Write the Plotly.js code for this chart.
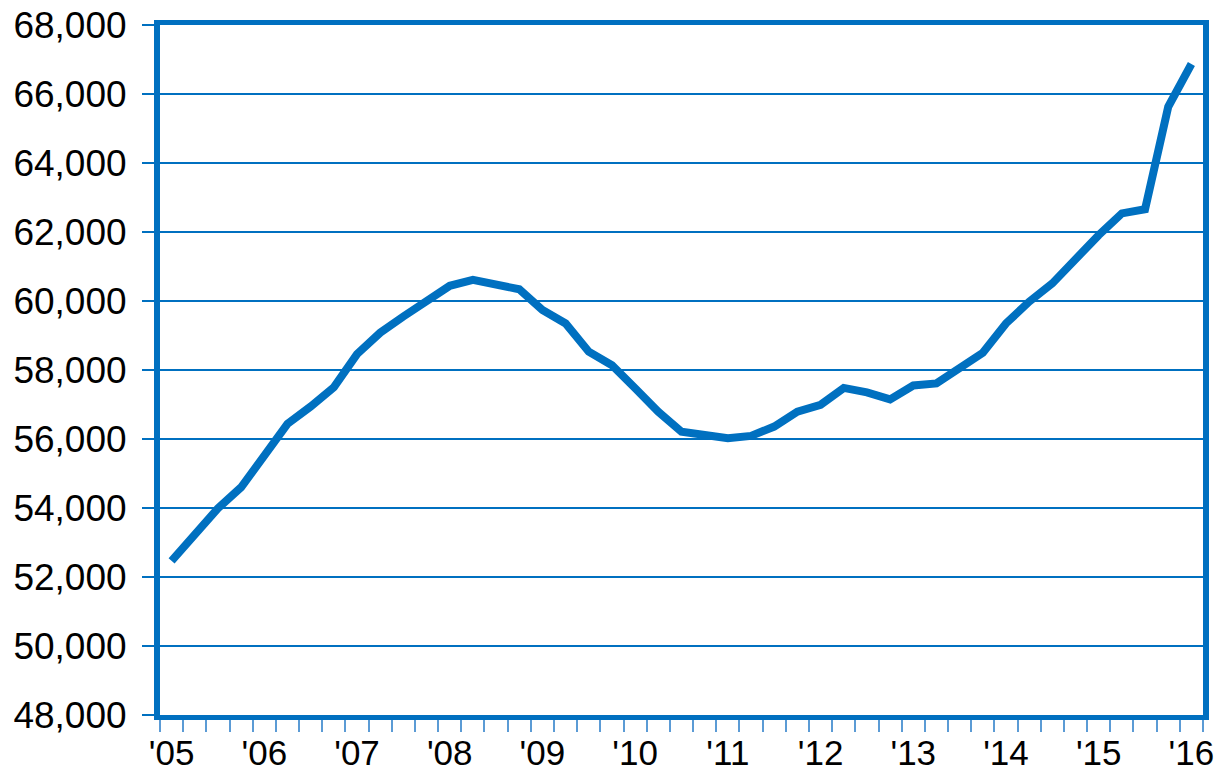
<!DOCTYPE html>
<html>
<head>
<meta charset="utf-8">
<script src="https://cdn.plot.ly/plotly-3.0.1.min.js"></script>
<style>html,body{margin:0;padding:0;background:#fff;}#chart{width:1223px;height:776px;}</style>
</head>
<body>
<div id="chart"></div>
<script>
// Quarterly categories, 2005 Q1 .. 2016 Q1
const quarters = [
  "2005Q1","2005Q2","2005Q3","2005Q4",
  "2006Q1","2006Q2","2006Q3","2006Q4",
  "2007Q1","2007Q2","2007Q3","2007Q4",
  "2008Q1","2008Q2","2008Q3","2008Q4",
  "2009Q1","2009Q2","2009Q3","2009Q4",
  "2010Q1","2010Q2","2010Q3","2010Q4",
  "2011Q1","2011Q2","2011Q3","2011Q4",
  "2012Q1","2012Q2","2012Q3","2012Q4",
  "2013Q1","2013Q2","2013Q3","2013Q4",
  "2014Q1","2014Q2","2014Q3","2014Q4",
  "2015Q1","2015Q2","2015Q3","2015Q4",
  "2016Q1"
];
const values = [
  52470, 53190, 53990, 54600,
  55570, 56440, 56940, 57500,
  58460, 59080, 59550, 59990,
  60440, 60610, 60470, 60340,
  59740, 59350, 58530, 58140,
  57470, 56790, 56210, 56110,
  56020, 56090, 56360, 56790,
  56990, 57480, 57350, 57150,
  57550, 57610, 58050, 58500,
  59350, 59980, 60510, 61240,
  61910, 62540, 62660, 65630,
  66870
];
// Year labels shown on the first quarter of each year
const yearLabels = {"2005Q1":"'05","2006Q1":"'06","2007Q1":"'07","2008Q1":"'08","2009Q1":"'09","2010Q1":"'10",
  "2011Q1":"'11","2012Q1":"'12","2013Q1":"'13","2014Q1":"'14","2015Q1":"'15","2016Q1":"'16"};
const yTicks = [48000, 50000, 52000, 54000, 56000, 58000, 60000, 62000, 64000, 66000, 68000];

const blue = "#0070C0";
const tickText = quarters.map(q => yearLabels[q] || "");

const trace = {
  type: "scatter",
  mode: "lines",
  x: quarters,
  y: values,
  line: {color: blue, width: 8},
  hoverinfo: "x+y"
};

const layout = {
  width: 1223,
  height: 776,
  margin: {l: 160, r: 20, t: 25, b: 61, pad: 0},
  paper_bgcolor: "#fff",
  plot_bgcolor: "#fff",
  showlegend: false,
  font: {family: "Liberation Sans, Arial, sans-serif", color: "#000"},
  xaxis: {
    type: "category",
    categoryorder: "array",
    categoryarray: quarters,
    range: [-0.5, quarters.length - 0.5],
    tickmode: "array",
    tickvals: quarters,
    ticktext: tickText,
    tickson: "boundaries",
    tickangle: 0,
    ticks: "outside",
    ticklen: 12,
    tickwidth: 2,
    tickcolor: "#5B9BD5",
    showgrid: false,
    showline: true,
    linecolor: blue,
    linewidth: 5,
    mirror: true,
    zeroline: false,
    tickfont: {size: 35, family: "Liberation Sans, Arial, sans-serif", color: "#000"},
    ticklabelstandoff: 3
  },
  yaxis: {
    range: [48000, 68000],
    tickmode: "array",
    tickvals: yTicks,
    tickformat: ",",
    ticks: "outside",
    ticklen: 12,
    tickwidth: 2,
    tickcolor: blue,
    showgrid: true,
    gridcolor: blue,
    gridwidth: 2,
    showline: true,
    linecolor: blue,
    linewidth: 6,
    mirror: true,
    zeroline: false,
    tickfont: {size: 37, family: "Liberation Sans, Arial, sans-serif", color: "#000"},
    ticklabelstandoff: 8
  }
};

Plotly.newPlot("chart", [trace], layout, {displayModeBar: false, staticPlot: true});
</script>
</body>
</html>
